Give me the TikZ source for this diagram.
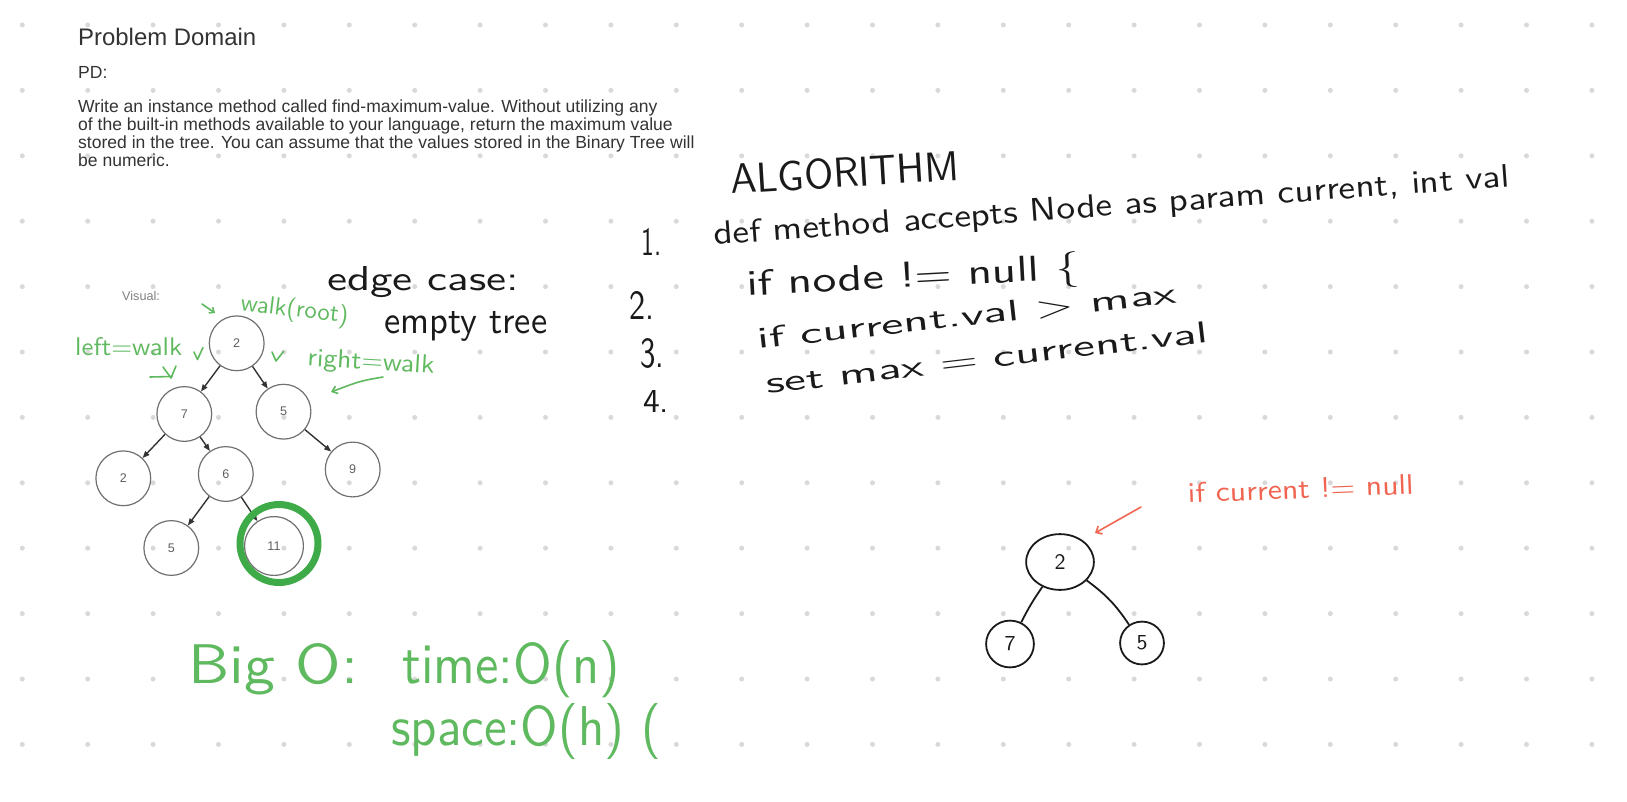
\documentclass[tikz,border=0pt]{standalone}
\usepackage{fontspec}
\setmainfont{Liberation Sans}
\usepackage{graphicx}
\usetikzlibrary{arrows.meta,shapes.geometric}
\definecolor{txt}{HTML}{333333}
\definecolor{dotc}{HTML}{D9D9D9}
\definecolor{hgreen}{RGB}{95,185,95}
\definecolor{ringgreen}{RGB}{62,170,72}
\definecolor{hred}{RGB}{240,100,80}
\definecolor{ink}{HTML}{1A1A1A}
\definecolor{circc}{HTML}{707070}
\definecolor{numc}{HTML}{606060}
\definecolor{edgec}{HTML}{333333}
\newcommand{\hw}[3]{\resizebox{#1bp}{#2bp}{\sffamily #3}}
\begin{document}
\begin{tikzpicture}[x=1bp,y=-1bp,
  typed/.style={anchor=base west, inner sep=0, text=txt},
  para/.style={typed, font=\fontsize{17.6}{18}\selectfont},
  tnode/.style={circle, draw=circc, line width=1.2, minimum size=55, inner sep=0,
    font=\fontsize{12.6}{14}\selectfont, text=numc},
  tedge/.style={draw=edgec, line width=1.4, -{Triangle[length=7,width=5.5]}},
  hwg/.style={text=hgreen, inner sep=0, anchor=base west},
  hwb/.style={text=ink, inner sep=0, anchor=base west},
  hwr/.style={text=hred, inner sep=0, anchor=base west},
  gstroke/.style={draw=hgreen, line width=1.6, line cap=round, line join=round},
  hcirc/.style={ellipse, draw=ink, line width=1.8, inner sep=0, text=ink},
]
\useasboundingbox (0,0) rectangle (1627,802);
\fill[white] (0,0) rectangle (1627,802);
\foreach \i in {0,...,24}{\foreach \j in {0,...,11}{\fill[dotc] ({22.3+65.4*\i},{25+65.4*\j}) circle[radius=2.5];}}

% typed text
\node[typed, font=\fontsize{24}{28}\selectfont] (title) at (78,45.7) {Problem Domain};
\node[typed, font=\fontsize{17.6}{20}\selectfont] (pd) at (78,79) {PD:};
\node[para] (p1) at (78,112) {Write an instance method called find-maximum-value. Without utilizing any};
\node[para] (p2) at (78,130) {of the built-in methods available to your language, return the maximum value};
\node[para] (p3) at (78,148) {stored in the tree. You can assume that the values stored in the Binary Tree will};
\node[para] (p4) at (78,166) {be numeric.};
\node[typed, text=numc!80, font=\fontsize{12.7}{14}\selectfont] (visual) at (122,300.5) {Visual:};

% left tree
\node[tnode] (r2) at (236.7,343.3) {2};
\node[tnode] (a7) at (184.3,414) {7};
\node[tnode] (a5) at (283.5,411.7) {5};
\node[tnode] (b2) at (123.3,478.3) {2};
\node[tnode] (b6) at (225.8,474) {6};
\node[tnode] (b9) at (352.7,469.5) {9};
\node[tnode] (c5) at (171.3,548) {5};
\node[tnode, minimum size=59] (c11) at (274,546) {11};
\draw[tedge] (r2) -- (a7);
\draw[tedge] (r2) -- (a5);
\draw[tedge] (a7) -- (b2);
\draw[tedge] (a7) -- (b6);
\draw[tedge] (a5) -- (b9);
\draw[tedge] (b6) -- (c5);
\draw[tedge] (b6) -- (c11);
\draw[ringgreen, line width=7] (279,543.5) circle[radius=39];

% green annotations
\node[hwg, rotate=-7] (walkroot) at (240,310) {\hw{108}{18.5}{walk(root)}};
\node[hwg] (leftwalk) at (75,355) {\hw{107}{18}{left=walk}};
\node[hwg, rotate=-3.5] (rightwalk) at (307,365.5) {\hw{127}{18}{right=walk}};
\draw[gstroke] (194,352) -- (197.5,359.5) -- (203,347.5);
\draw[gstroke] (272,352) -- (276,361) -- (283.5,351.5);
\draw[gstroke, -{Straight Barb[length=4,width=7]}] (202,304) -- (215,313);
\draw[gstroke] (150,377) -- (172,376.5);
\draw[gstroke] (163,367) -- (171,378) -- (176,366);
\coordinate (rwA) at (383,377);
\coordinate (rwB) at (331,392);
\draw[gstroke, -{Straight Barb[length=5,width=8]}] (rwA) .. controls (360,381) .. (rwB);

% edge case
\node[hwb] (edge) at (327,290) {\hw{192}{24}{edge case:}};
\node[hwb] (empty) at (384,333) {\hw{163}{22}{empty tree}};

% algorithm
\node[hwb, rotate=3.5] (algo) at (731,194) {\hw{229}{30}{ALGORITHM}};
\node[hwb] (n1) at (641,255) {\hw{20}{27}{1.}};
\node[hwb] (n2) at (629,319) {\hw{25}{28}{2.}};
\node[hwb] (n3) at (640,367) {\hw{24}{29}{3.}};
\node[hwb] (n4) at (643,412) {\hw{26}{22}{4.}};
\node[hwb, rotate=4.2] (l1) at (714,245) {\hw{798}{23}{def method accepts Node as param current, int val}};
\node[hwb, rotate=3] (l2) at (747,296) {\hw{333}{27}{if node != null \{}};
\node[hwb, rotate=6.3] (l3) at (758,349) {\hw{422}{21}{if current.val > max}};
\node[hwb, rotate=6.7] (l4) at (767,394) {\hw{445}{21}{set max = current.val}};

% red note
\node[hwr, rotate=2.3] (redtxt) at (1188,503) {\hw{226}{20}{if current != null}};
\coordinate (raA) at (1141,507);
\coordinate (raB) at (1095,533);
\draw[hred, line width=1.6, line cap=round, -{Straight Barb[length=5,width=9]}] (raA) -- (raB);

% hand-drawn tree
\node[hcirc, minimum width=68, minimum height=56] (h2) at (1060,562) {\hw{11}{15}{2}};
\node[hcirc, minimum width=48, minimum height=47] (h7) at (1010,644) {\hw{11}{14}{7}};
\node[hcirc, minimum width=44, minimum height=43] (h5) at (1142,643) {\hw{11}{14}{5}};
\draw[ink, line width=1.8] (h2) to[bend right=4] (h7);
\draw[ink, line width=1.8] (h2) to[bend left=10] (h5);

% Big O
\node[hwg] (bigo) at (188,683) {\hw{170}{40}{Big O:}};
\node[hwg] (time) at (402,683) {\hw{218}{43}{time:O(n)}};
\node[hwg] (space) at (391,745) {\hw{270}{42}{space:O(h) (}};
\end{tikzpicture}
\end{document}
